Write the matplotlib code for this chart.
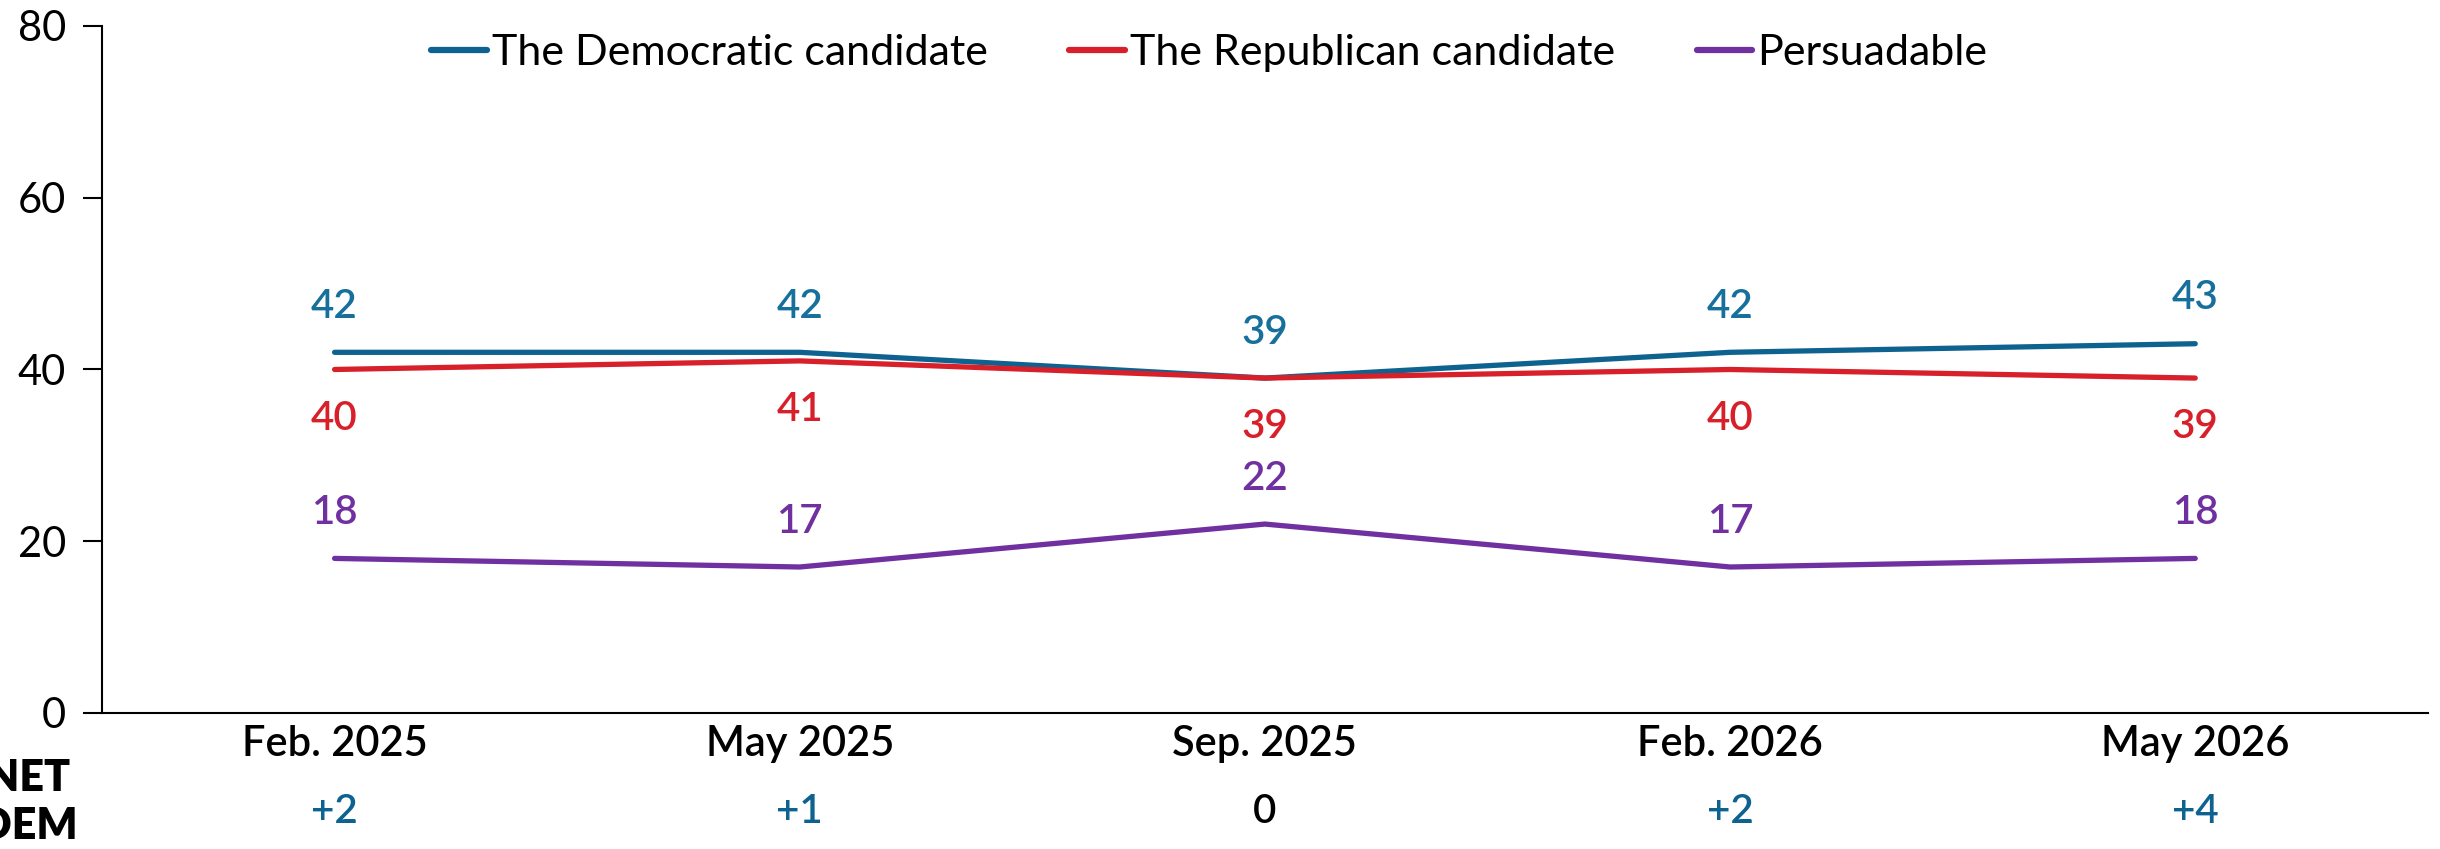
import matplotlib.pyplot as plt
import numpy as np

# ------------ data --------------------- #
waves = ['Feb. 2025', 'May 2025', 'Sep. 2025', 'Feb. 2026', 'May 2026']
dem = [42, 42, 39, 42, 43]
rep = [40, 41, 39, 40, 39]
persuadable = [18, 17, 22, 17, 18]
yticks = [0, 20, 40, 60, 80]

c_dem = '#0e6290'
c_rep = '#d7202a'
c_per = '#7030a0'

plt.rcParams['font.family'] = ['Lato', 'DejaVu Sans']

fig = plt.figure(figsize=(24.4, 8.49), dpi=100)
ax = fig.add_axes([0.0418, 0.1602, 0.9532, 0.8092])

x = np.arange(len(waves))
ax.plot(x, dem, c=c_dem, lw=3.8, label='The Democratic candidate', solid_capstyle='round')
ax.plot(x, rep, c=c_rep, lw=3.8, label='The Republican candidate', solid_capstyle='round')
ax.plot(x, persuadable, c=c_per, lw=3.8, label='Persuadable', solid_capstyle='round')

# data labels
for xi, d, r, p in zip(x, dem, rep, persuadable):
    ax.annotate(f'{d}', (xi, d), xytext=(0, 33), textcoords='offset points',
                ha='center', va='center', fontsize=29, color='#17709c', fontweight='semibold')
    ax.annotate(f'{r}', (xi, r), xytext=(0, -35), textcoords='offset points',
                ha='center', va='center', fontsize=29, color=c_rep, fontweight='semibold')
    ax.annotate(f'{p}', (xi, p), xytext=(0, 33), textcoords='offset points',
                ha='center', va='center', fontsize=29, color=c_per, fontweight='semibold')

# net dem row
net = np.array(dem) - np.array(rep)
for xi, n in zip(x, net):
    lab = f'+{n}' if n > 0 else f'{n}'
    col = c_dem if n > 0 else 'black'
    ax.text(xi, -11.5, lab, ha='center', va='center', fontsize=29, color=col,
            fontweight='semibold')
fig.text(0.0115, 0.0555, 'NET\nDEM', ha='center', va='center', fontsize=31,
         fontweight='heavy', linespacing=1.25)

ax.set(xlim=(-0.5, 4.5), ylim=(0, 80), xticks=x, yticks=yticks)
ax.set_xticklabels(waves, fontsize=30, fontweight='semibold')
ax.set_yticklabels([str(t) for t in yticks], fontsize=30, fontweight='normal')
ax.tick_params(axis='x', length=0, pad=9)
ax.tick_params(axis='y', length=14, width=1.5, pad=12)
for s in ['top', 'right']:
    ax.spines[s].set_visible(False)
ax.spines['left'].set_linewidth(1.5)
ax.spines['bottom'].set_linewidth(1.5)

leg = ax.legend(loc='upper center', bbox_to_anchor=(0.476, 1.045), ncol=3, frameon=False,
                fontsize=31, handlelength=1.3, handletextpad=0.1, columnspacing=1.9)
for h in leg.get_lines():
    h.set_linewidth(4.5)

plt.savefig('out.png', dpi=100)
